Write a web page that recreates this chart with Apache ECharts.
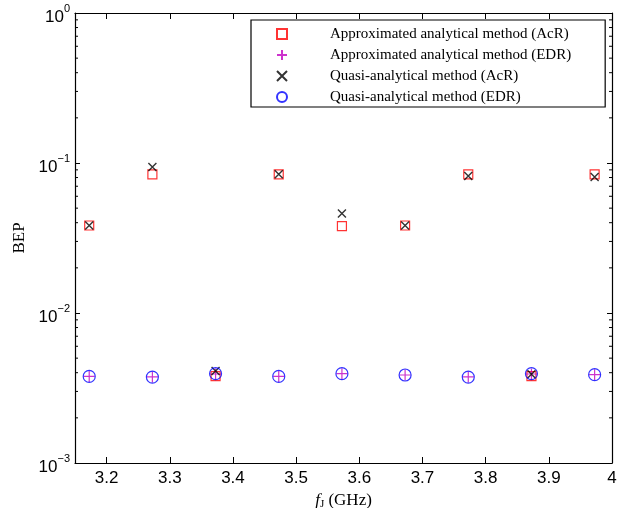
<!DOCTYPE html>
<html><head><meta charset="utf-8">
<script src="https://cdn.jsdelivr.net/npm/echarts@6/dist/echarts.min.js"></script>
<style>html,body{margin:0;padding:0;background:#fff}#c{width:643px;height:508px}</style>
</head><body><div id="c"></div>
<script>
const freqGHz   = [3.1725, 3.2725, 3.3725, 3.4725, 3.5725, 3.6725, 3.7725, 3.8725, 3.9725];
const approxAcR = [0.0383, 0.0841, 0.0038, 0.0841, 0.0379, 0.0383, 0.0841, 0.0038, 0.0841];
const approxEDR = [0.00378, 0.00375, 0.00392, 0.00378, 0.00394, 0.00386, 0.00375, 0.00392, 0.00388];
const quasiAcR  = [0.0383, 0.094, 0.0041, 0.084, 0.046, 0.0383, 0.082, 0.0039, 0.0807];
const quasiEDR  = [0.00378, 0.00374, 0.00394, 0.00378, 0.00394, 0.00386, 0.00374, 0.00394, 0.00388];
const seriesNames = [
  'Approximated analytical method (AcR)',
  'Approximated analytical method (EDR)',
  'Quasi-analytical method (AcR)',
  'Quasi-analytical method (EDR)'
];
const xTickValues = [3.2, 3.3, 3.4, 3.5, 3.6, 3.7, 3.8, 3.9, 4];
const yMinorTickValues = [0.002,0.003,0.004,0.005,0.006,0.007,0.008,0.009,
  0.02,0.03,0.04,0.05,0.06,0.07,0.08,0.09,
  0.2,0.3,0.4,0.5,0.6,0.7,0.8,0.9];
const X_MIN = 3.15, X_MAX = 4, Y_MIN = 0.001, Y_MAX = 1;

const pts = arr => freqGHz.map((x, i) => [x, arr[i]]);
const sans = 'Liberation Sans', serif = 'Liberation Serif';

function yLabel(v) {
  const e = Math.round(Math.log10(v));
  return '{b|10}{e|' + (e < 0 ? '\u2212' + (-e) : e) + '}';
}

const baseX = {
  type: 'value', min: X_MIN, max: X_MAX,
  axisLine: { show: true, lineStyle: { color: '#000', width: 1.2 } },
  axisTick: { show: true, inside: true, length: 6, customValues: xTickValues, lineStyle: { color: '#000' } },
  splitLine: { show: false }
};
const baseY = {
  type: 'log', logBase: 10, min: Y_MIN, max: Y_MAX,
  axisLine: { show: true, lineStyle: { color: '#000', width: 1.2 } },
  axisTick: { show: true, inside: true, length: 5, lineStyle: { color: '#000' } },
  splitLine: { show: false }
};

const chart = echarts.init(document.getElementById('c'), null, { renderer: 'canvas' });
chart.setOption({
  animation: false,
  backgroundColor: '#fff',
  grid: { left: 75, right: 31, top: 13, bottom: 45, containLabel: false, outerBoundsMode: 'none' },
  xAxis: [
    Object.assign({}, baseX, {
      position: 'bottom',
      axisLabel: { customValues: xTickValues, color: '#000', fontFamily: sans, fontSize: 17, margin: 7 },
      name: '{i|f}{s|J} (GHz)', nameLocation: 'middle', nameGap: 23,
      nameTextStyle: { color: '#000', fontFamily: serif, fontSize: 17,
        rich: { i: { fontFamily: serif, fontStyle: 'italic', fontSize: 17 },
                s: { fontFamily: serif, fontSize: 11, padding: [8, 0, 0, 0] } } }
    }),
    Object.assign({}, baseX, { position: 'top', axisLabel: { show: false } })
  ],
  yAxis: [
    Object.assign({}, baseY, {
      position: 'left',
      axisLabel: { color: '#000', fontFamily: sans, margin: 5, formatter: yLabel,
        rich: { b: { fontFamily: sans, fontSize: 17, padding: [9, 0, 0, 0] },
                e: { fontFamily: sans, fontSize: 11, padding: [0, 0, 9, 0] } } },
      name: 'BEP', nameLocation: 'middle', nameGap: 41,
      nameTextStyle: { color: '#000', fontFamily: serif, fontSize: 17 }
    }),
    Object.assign({}, baseY, { position: 'right', axisLabel: { show: false } })
  ],
  legend: {
    orient: 'vertical', left: 251, top: 20,
    data: seriesNames,
    itemWidth: 10, itemHeight: 10, itemGap: 6,
    padding: [6.5, 34, 2.5, 25],
    borderColor: '#000', borderWidth: 1.2, backgroundColor: '#fff',
    textStyle: { color: '#000', fontFamily: serif, fontSize: 15, lineHeight: 15, padding: [0, 0, 0, 38] },
    selectedMode: false
  },
  series: [
    { name: seriesNames[0], type: 'scatter', data: pts(approxAcR), symbol: 'rect', symbolSize: 9,
      itemStyle: { color: 'transparent', borderColor: '#ff0000', borderWidth: 1.2 }, z: 2 },
    { name: seriesNames[1], type: 'scatter', data: pts(approxEDR), symbol: 'path://M5,0L5,10M0,5L10,5', symbolSize: 11,
      itemStyle: { color: 'transparent', borderColor: '#c000c0', borderWidth: 1.2 }, z: 3 },
    { name: seriesNames[2], type: 'scatter', data: pts(quasiAcR), symbol: 'path://M0,0L10,10M10,0L0,10', symbolSize: 8,
      itemStyle: { color: 'transparent', borderColor: '#000000', borderWidth: 1.4 }, z: 4 },
    { name: seriesNames[3], type: 'scatter', data: pts(quasiEDR), symbol: 'circle', symbolSize: 12,
      itemStyle: { color: 'transparent', borderColor: '#0000ff', borderWidth: 1.2 }, z: 5 },
    { type: 'custom', silent: true, clip: false, z: 6,
      data: yMinorTickValues.map(v => [X_MIN, v]),
      renderItem: function (params, api) {
        const v = api.value(1);
        const l = api.coord([X_MIN, v]);
        const r = api.coord([X_MAX, v]);
        return { type: 'group', children: [
          { type: 'line', shape: { x1: l[0], y1: l[1], x2: l[0] + 3, y2: l[1] }, style: { stroke: '#000', lineWidth: 1 } },
          { type: 'line', shape: { x1: r[0], y1: r[1], x2: r[0] - 3, y2: r[1] }, style: { stroke: '#000', lineWidth: 1 } }
        ] };
      }
    }
  ]
});
</script></body></html>
